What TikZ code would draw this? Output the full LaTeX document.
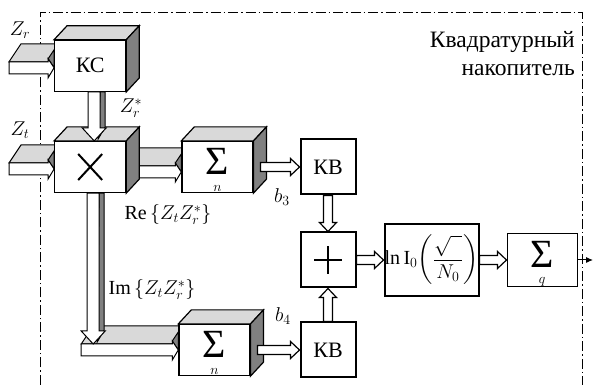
\RequirePackage{fix-cm}
\documentclass[tikz,border=0pt]{standalone}
\usepackage{amsmath}
\usepackage{fontspec}
\setmainfont{Liberation Serif}
\usetikzlibrary{arrows.meta, positioning, calc, backgrounds}

\definecolor{topgray}{gray}{0.85}
\definecolor{sidegray}{gray}{0.5}

\begin{document}
\begin{tikzpicture}[x=1pt, y=1pt,
  cube/.style={rectangle, draw, fill=white, line width=1.2pt, minimum width=71pt,
               minimum height=51pt, inner sep=0pt, font=\fontsize{22}{26}\selectfont},
  flat/.style={rectangle, draw, fill=white, line width=2pt, minimum width=55pt,
               minimum height=55pt, inner sep=0pt, font=\fontsize{22}{26}\selectfont},
  lbl/.style={inner sep=1pt, font=\fontsize{20}{24}\selectfont},
  sub/.style={anchor=south, inner sep=1pt, font=\fontsize{14}{14}\selectfont},
  frame/.style={line width=1pt, dash pattern=on 10pt off 3pt on 1.5pt off 3pt},
  crossmark/.style={path picture={\draw[line width=2pt]
      ([shift={(-12pt,-13pt)}]path picture bounding box.center) -- ([shift={(12pt,13pt)}]path picture bounding box.center)
      ([shift={(-12pt,13pt)}]path picture bounding box.center) -- ([shift={(12pt,-13pt)}]path picture bounding box.center);}},
  plusmark/.style={path picture={\draw[line width=2pt]
      ([xshift=-14pt]path picture bounding box.center) -- ([xshift=14pt]path picture bounding box.center)
      ([yshift=-14pt]path picture bounding box.center) -- ([yshift=14pt]path picture bounding box.center);}},
  % hollow block arrow between two anchors
  blk/.style={draw, fill=white, line width=1.2pt, line join=miter, to path={
      ($(\tikztostart)!4.5pt!90:(\tikztotarget)$)
      -- ($(\tikztotarget)!9pt!(\tikztostart)!4.5pt!90:(\tikztotarget)$)
      -- ($(\tikztotarget)!9pt!(\tikztostart)!8.5pt!90:(\tikztotarget)$)
      -- (\tikztotarget)
      -- ($(\tikztotarget)!9pt!(\tikztostart)!8.5pt!-90:(\tikztotarget)$)
      -- ($(\tikztotarget)!9pt!(\tikztostart)!4.5pt!-90:(\tikztotarget)$)
      -- ($(\tikztostart)!4.5pt!-90:(\tikztotarget)$) -- cycle}},
  % 3d arrows, pointing right
  arrtop/.style={draw, fill=topgray, line width=1pt, to path={
      let \p1=(\tikztostart), \p2=(\tikztotarget) in
      (\x1,\y1+6pt) -- (\x2,\y1+6pt) -- (\x2+12pt,\y1+24pt) -- (\x1+12pt,\y1+24pt) -- cycle}},
  arrhead/.style={draw, fill=sidegray, line width=1pt, to path={
      let \p1=(\tikztostart), \p2=(\tikztotarget) in
      (\x2-6pt,\y1+9pt) -- (\x2,\y1) -- (\x2,\y1+18pt) -- cycle}},
  arrfront/.style={draw, fill=white, line width=1pt, to path={
      let \p1=(\tikztostart), \p2=(\tikztotarget) in
      (\x1,\y1+6pt) -- (\x2-6pt,\y1+6pt) -- (\x2-6pt,\y1+9pt) -- (\x2,\y1)
      -- (\x2-6pt,\y1-10pt) -- (\x2-6pt,\y1-6pt) -- (\x1,\y1-6pt) -- cycle}},
  % 3d arrows, pointing down
  varrside/.style={draw, fill=sidegray, line width=1pt, to path={
      let \p1=(\tikztostart), \p2=(\tikztotarget) in
      (\x1+6pt,\y1) -- (\x1+11pt,\y1) -- (\x1+11pt,\y2+14pt) -- (\x1+4pt,\y2+2pt) -- cycle}},
  varrfront/.style={draw, fill=white, line width=1pt, to path={
      let \p1=(\tikztostart), \p2=(\tikztotarget) in
      (\x1-6pt,\y1) -- (\x1-6pt,\y2+13pt) -- (\x1-12pt,\y2+13pt) -- (\x1,\y2)
      -- (\x1+12pt,\y2+13pt) -- (\x1+6pt,\y2+13pt) -- (\x1+6pt,\y1) -- cycle}}
]
  \useasboundingbox (0,0) rectangle (594,385);

  % right half
  \node[flat, plusmark] (sum) at (328,125) {};
  \node[flat, above=36pt of sum] (kv1) {КВ};
  \node[flat, below=33pt of sum] (kv2) {КВ};
  \node[flat, minimum width=94pt, minimum height=72pt, right=27pt of sum, font=\fontsize{20}{24}\selectfont] (ln)
    {$\ln\mathrm{I}_0\!\left(\dfrac{\sqrt{\phantom{x}}}{N_0}\right)$};
  \node[flat, line width=1.2pt, minimum width=70pt, minimum height=53pt, right=27pt of ln,
        label={[sub]south:$q$}] (sq) {\fontsize{40}{40}\selectfont\raisebox{12pt}{Σ}};

  % left half
  \node[cube, left=46pt of kv1, label={[sub]south:$n$}] (sn1) {\fontsize{40}{40}\selectfont\raisebox{12pt}{Σ}};
  \node[cube, left=49pt of kv2, label={[sub]south:$n$}] (sn2) {\fontsize{40}{40}\selectfont\raisebox{12pt}{Σ}};
  \node[cube, crossmark, left=55pt of sn1] (mul) {};
  \node[cube, above=49pt of mul] (ks) {КС};

  \foreach \n in {ks, mul, sn1, sn2} {
    \draw[line width=1.2pt, fill=topgray] (\n.north west) -- ++(13,14)
      -- ([shift={(13,14)}]\n.north east) -- (\n.north east) -- cycle;
    \draw[line width=1.2pt, fill=sidegray] (\n.north east) -- ++(13,14)
      -- ([shift={(13,14)}]\n.south east) -- (\n.south east) -- cycle;
  }

  \node[anchor=north east, align=right, inner sep=0pt, font=\fontsize{23.5}{28}\selectfont] (title)
    at (575,354) {Квадратурный\\накопитель};

  \node[lbl] (zrlab) at (20,355) {$Z_r$};
  \node[lbl] (ztlab) at (20,255) {$Z_t$};
  \node[lbl] (zrst) at (131,277) {$Z_r^*$};
  \node[lbl] (relab) at (168,170) {$\mathrm{Re}\left\{Z_tZ_r^*\right\}$};
  \node[lbl] (imlab) at (152,95) {$\mathrm{Im}\left\{Z_tZ_r^*\right\}$};
  \node[lbl] (b3) at (282,188) {$b_3$};
  \node[lbl] (b4) at (283,69) {$b_4$};

  \coordinate (zr) at ($(ks.west -| 9,0)+(0,-2)$);
  \coordinate (zt) at ($(mul.west -| 9,0)+(0,-2)$);
  \coordinate (lstart) at ($(mul.south |- sn2.west)+(-9,0)$);
  \coordinate (lcorner) at ($(mul.south |- sn2.west)+(3,6)$);
  \coordinate (out) at (sq.east -| 593,0);

  \begin{scope}[on background layer]
    \draw[frame] (40,0) -- (40,372) -- (582,372) -- (582,0);
    \draw[arrtop] (zr) to (ks.west);
    \draw[arrhead] (zr) to (ks.west);
    \draw[arrfront] (zr) to (ks.west);
    \draw[arrtop] (zt) to (mul.west);
    \draw[arrhead] (zt) to (mul.west);
    \draw[arrfront] (zt) to (mul.west);
    \draw[arrtop] ([yshift=-5pt]mul.east) to (sn1.west);
    \draw[arrhead] ([yshift=-5pt]mul.east) to (sn1.west);
    \draw[arrfront] ([yshift=-5pt]mul.east) to (sn1.west);
    \draw[arrtop] (lstart) to (sn2.west);
    \draw[arrhead] (lstart) to (sn2.west);
    \draw[arrfront] (lstart) to (sn2.west);
  \end{scope}

  \draw[varrside] ([xshift=4pt]ks.south) to (mul.north);
  \draw[varrfront] ([xshift=4pt]ks.south) to (mul.north);
  \draw[varrside] ([xshift=3pt]mul.south) to (lcorner);
  \draw[varrfront] ([xshift=3pt]mul.south) to (lcorner);

  \draw[blk] ([xshift=7pt]sn1.east) to (kv1.west);
  \draw[blk] ([xshift=7pt]sn2.east) to (kv2.west);
  \draw[blk] (kv1.south) to (sum.north);
  \draw[blk] (kv2.north) to (sum.south);
  \draw[blk] (sum.east) to (ln.west);
  \draw[blk] (ln.east) to (sq.west);
  \draw[-{Latex[length=7pt,width=6pt]}, line width=1pt] (sq.east) -- (out);
\end{tikzpicture}
\end{document}
